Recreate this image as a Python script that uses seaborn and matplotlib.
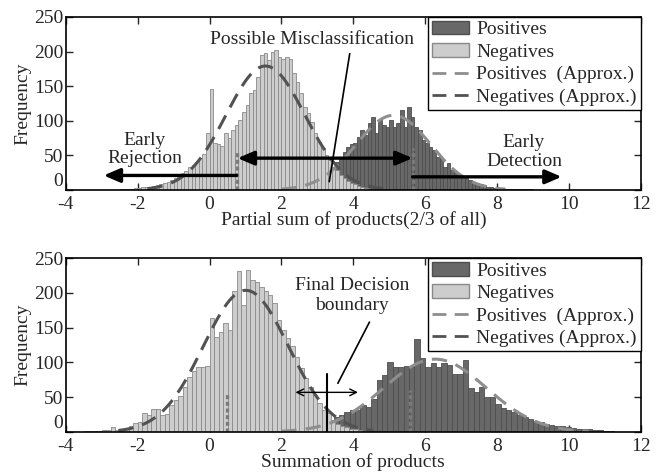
import numpy as np
import pandas as pd
import matplotlib
matplotlib.use("Agg")
import matplotlib.pyplot as plt
from matplotlib.patches import Patch
from matplotlib.lines import Line2D
import seaborn as sns

# ---- data (bin counts) ----
# top panel: partial sum of products, 0.1 wide bins
top_neg_start, top_neg_bin = -2.5, 0.1
top_neg = [1, 1, 2, 2, 3, 3, 4, 4, 5, 6,
           7, 8, 10, 12, 14, 17, 22, 25, 28, 33,
           36, 40, 46, 52, 82, 146, 68, 66, 63, 82,
           75, 86, 94, 101, 113, 123, 140, 144, 163, 195,
           198, 188, 199, 202, 192, 190, 192, 189, 169, 156,
           140, 120, 111, 98, 82, 69, 61, 51, 43, 33,
           29, 22, 17, 13, 10, 8, 6, 4, 3, 2]
top_pos_start, top_pos_bin = 2.5, 0.1
top_pos = [3, 5, 7, 9, 12, 15, 18, 22, 28, 33,
           40, 48, 55, 62, 66, 68, 77, 87, 79, 97,
           105, 82, 101, 94, 91, 101, 91, 97, 116, 91,
           120, 105, 91, 87, 72, 68, 62, 58, 48, 46,
           33, 39, 29, 25, 22, 17, 19, 14, 12, 10,
           8, 7, 5, 4, 3, 3, 2, 2, 2, 1,
           1, 1, 1, 1, 1]

# bottom panel: full summation
bot_neg_start, bot_neg_bin = -3.5, 0.125
bot_neg = [1, 1, 2, 2, 3, 3, 7, 3, 4, 5,
           8, 13, 15, 27, 24, 33, 33, 24, 26, 39,
           46, 52, 65, 79, 88, 93, 93, 95, 164, 137,
           144, 156, 147, 202, 232, 182, 233, 218, 216, 209,
           202, 197, 185, 161, 147, 135, 123, 108, 92, 77,
           65, 53, 41, 32, 27, 17, 12, 9, 7, 5,
           4, 3, 2, 2]
bot_pos_start, bot_pos_bin = 3.3, 0.15
bot_pos = [15, 22, 25, 29, 32, 32, 39, 36, 48, 75,
           82, 101, 94, 93, 95, 94, 133, 106, 94, 99,
           94, 99, 96, 84, 84, 104, 63, 58, 65, 51,
           51, 40, 34, 32, 29, 25, 21, 18, 16, 14,
           12, 10, 9, 8, 7, 6, 5, 4, 4, 3,
           3, 2, 2]

# thresholds
top_reject, top_detect = 0.75, 5.65
bot_reject, bot_detect = 0.47, 5.57
boundary = 3.26

labels = ["Positives", "Negatives", "Positives  (Approx.)", "Negatives (Approx.)"]

POS_FACE, POS_EDGE = "#686868", "#4e4e4e"
NEG_FACE, NEG_EDGE = "#cdcdcd", "#8a8a8a"
POS_LINE, NEG_LINE = "#8e8e8e", "#525252"
MARK = "#7a7a7a"

sns.set_style("ticks")
plt.rcParams["font.family"] = ["Liberation Serif", "DejaVu Serif"]
plt.rcParams["axes.unicode_minus"] = False
plt.rcParams["font.size"] = 14


def draw_hist(ax, counts, start, width, face, edge):
    counts = np.asarray(counts, dtype=float)
    edges = start + width * np.arange(len(counts) + 1)
    centers = edges[:-1] + width / 2
    df = pd.DataFrame({"x": centers, "n": counts})
    sns.histplot(data=df, x="x", weights="n", bins=len(counts),
                 binrange=(edges[0], edges[-1]), ax=ax, color=face,
                 edgecolor=edge, alpha=1, linewidth=0.6)
    return centers, counts


def draw_fit(ax, centers, counts, width, color):
    # normal approximation fitted to the histogram
    n = counts.sum()
    mu = (centers * counts).sum() / n
    sd = np.sqrt((counts * (centers - mu) ** 2).sum() / n)
    xs = np.linspace(mu - 3 * sd, mu + 3 * sd, 300)
    ys = n * width * np.exp(-0.5 * ((xs - mu) / sd) ** 2) / (sd * np.sqrt(2 * np.pi))
    ax.plot(xs, ys, color=color, lw=2.2, dashes=(5, 3))


def panel(ax, neg, neg_start, neg_bin, pos, pos_start, pos_bin, reject, detect, xlabel):
    pc, pv = draw_hist(ax, pos, pos_start, pos_bin, POS_FACE, POS_EDGE)
    nc, nv = draw_hist(ax, neg, neg_start, neg_bin, NEG_FACE, NEG_EDGE)
    draw_fit(ax, pc, pv, pos_bin, POS_LINE)
    draw_fit(ax, nc, nv, neg_bin, NEG_LINE)
    ax.plot([reject, reject], [0, 57], color=MARK, lw=2.4, ls=(0, (1.2, 0.8)))
    ax.plot([detect, detect], [0, 60], color=MARK, lw=2.4, ls=(0, (1.2, 0.8)))

    ax.set_xlim(-4, 12)
    ax.set_ylim(0, 250)
    ax.set_xticks(range(-4, 13, 2))
    ax.set_yticks(range(0, 251, 50))
    ax.tick_params(direction="in", top=True, right=True, length=5, pad=2,
                   labelsize=14, width=1)
    ax.tick_params(axis="x", pad=4)
    # lift the "0" a little so it clears the "-4" below it
    ax.yaxis.get_major_ticks()[0].label1.set_va("bottom")
    for s in ax.spines.values():
        s.set_linewidth(1.2)
        s.set_color("black")
    ax.set_xlabel(xlabel, fontsize=14, labelpad=-1)
    ax.set_ylabel("Frequency", fontsize=14, labelpad=2)

    handles = [Patch(facecolor=POS_FACE, edgecolor=POS_EDGE),
               Patch(facecolor=NEG_FACE, edgecolor=NEG_EDGE),
               Line2D([], [], color=POS_LINE, lw=2, dashes=(5, 3)),
               Line2D([], [], color=NEG_LINE, lw=2, dashes=(5, 3))]
    leg = ax.legend(handles, labels, loc="upper right", borderaxespad=0,
                    fancybox=False, framealpha=1, edgecolor="black", fontsize=14,
                    handlelength=1.9, handletextpad=0.4, labelspacing=0.25,
                    borderpad=0.2)
    leg.get_frame().set_linewidth(1.0)


fig = plt.figure(figsize=(6.66, 4.72), dpi=100)
ax1 = fig.add_axes([0.099, 0.5975, 0.863, 0.3665])
ax2 = fig.add_axes([0.099, 0.0847, 0.863, 0.3686])

panel(ax1, top_neg, top_neg_start, top_neg_bin, top_pos, top_pos_start, top_pos_bin,
      top_reject, top_detect, "Partial sum of products(2/3 of all)")
panel(ax2, bot_neg, bot_neg_start, bot_neg_bin, bot_pos, bot_pos_start, bot_pos_bin,
      bot_reject, bot_detect, "Summation of products")

# top annotations
big = dict(arrowstyle="-|>,head_length=0.7,head_width=0.3", color="black",
           lw=2.4, mutation_scale=14, shrinkA=0, shrinkB=0)
ax1.annotate("", xy=(-2.95, 21), xytext=(top_reject, 21), arrowprops=big)
ax1.annotate("", xy=(9.8, 19), xytext=(top_detect, 19), arrowprops=big)
dbl = dict(big, arrowstyle="<|-|>,head_length=0.7,head_width=0.3")
ax1.annotate("", xy=(0.78, 46), xytext=(top_detect, 46), arrowprops=dbl)
ax1.text(-1.8, 58, "Early\nRejection", ha="center", va="center", fontsize=14,
         linespacing=1.1)
ax1.text(8.75, 55, "Early\nDetection", ha="center", va="center", fontsize=14,
         linespacing=1.1)
ax1.text(2.85, 218, "Possible Misclassification", ha="center", va="center", fontsize=14)
ax1.plot([3.9, 3.33], [197, 12], color="black", lw=1.2)

# bottom annotations
ax2.plot([boundary, boundary], [0, 83], color="black", lw=1.5)
thin = dict(arrowstyle="->", color="black", lw=1, mutation_scale=12,
            shrinkA=0, shrinkB=0)
ax2.annotate("", xy=(2.39, 57), xytext=(boundary, 57), arrowprops=thin)
ax2.annotate("", xy=(4.13, 57), xytext=(boundary, 57), arrowprops=thin)
ax2.text(3.96, 196, "Final Decision\nboundary", ha="center", va="center", fontsize=14,
         linespacing=1.2)
ax2.plot([4.45, 3.57], [158, 70], color="black", lw=1.2)

fig.savefig("out.png", dpi=100)
